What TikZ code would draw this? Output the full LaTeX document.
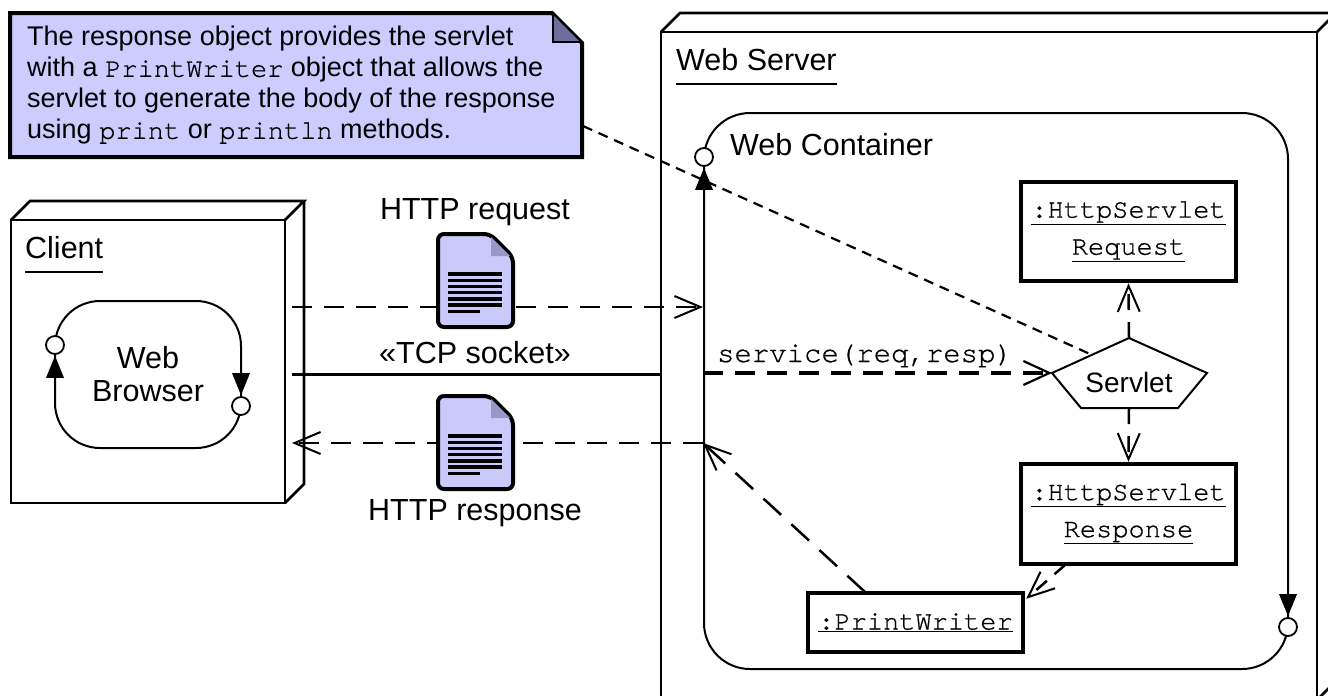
\documentclass[tikz,border=0pt]{standalone}
\usepackage{fontspec}
\setmainfont{Liberation Sans}
\setmonofont{TeX Gyre Cursor}[FakeBold=0.7]
\usetikzlibrary{arrows.meta,calc}
\definecolor{notefill}{HTML}{CCCCFF}
\definecolor{notefold}{HTML}{6E6E9E}
\definecolor{docfill}{HTML}{CACAFA}
\definecolor{docfold}{HTML}{9898C8}
\newcommand\mydoc[1]{%
  \begin{scope}[shift={#1}]
    \draw[line width=4pt, fill=docfill, rounded corners=6pt] (0,0) -- (52,0) -- (75,23) -- (75,93) -- (0,93) -- cycle;
    \fill[docfold] (53,3) -- (53,22) -- (72,22) -- cycle;
    \foreach \k in {0,...,5}{\draw[line width=3.4pt] (10,{40+6.2*\k}) -- (64,{40+6.2*\k});}
    \draw[line width=3.4pt] (10,77.2) -- (42,77.2);
  \end{scope}}
\tikzset{
  lbl/.style={font=\fontsize{30.5}{34}\selectfont, inner sep=0pt},
  monolbl/.style={font=\ttfamily\fontsize{29}{34}\selectfont, inner sep=0pt},
  nodebox/.style={line width=2.6pt},
  objbox/.style={draw, line width=4.5pt, inner sep=0pt, align=center, font=\ttfamily\fontsize{27}{37}\selectfont},
  lolli/.style={circle, draw, fill=white, line width=1.8pt, minimum size=18pt, inner sep=0pt},
  openhead/.style={-{Straight Barb[length=26pt, width=22pt, line width=2pt]}},
  dashln/.style={line width=2.5pt, dash pattern=on 20pt off 12pt},
  notedash/.style={line width=2.2pt, dash pattern=on 10pt off 7pt},
}
\begin{document}
\begin{tikzpicture}[x=1pt, y=-1pt]
\useasboundingbox (0,0) rectangle (1328,696);
\clip (0,0) rectangle (1328,696);

% ---------- Web Server node (3D box)
\draw[nodebox] (661,32) rectangle (1317,700);
\draw[nodebox] (661,32) -- (680,13) -- (1336,13) -- (1317,32);
\draw[nodebox] (1336,13) -- (1336,681) -- (1317,700);
\node[lbl, anchor=base west] (wsl) at (676,70) {Web Server};
\draw[line width=1.8pt] ($(wsl.base west)+(0,14)$) -- ($(wsl.base east)+(0,14)$);

% ---------- Web Container
\node[draw, line width=2pt, rounded corners=46pt, minimum width=584pt, minimum height=556pt, inner sep=0pt] (wc) at (996,391) {};
\node[lbl, anchor=base west] (wcl) at (730,155) {Web Container};
\node[lolli] (wcin) at (704,157) {};
\fill ($(wcin.south)+(0,1)$) -- ++(-9,22) -- ++(18,0) -- cycle;
\node[lolli] (wcout) at (1288,627) {};
\fill ($(wcout.north)+(0,-1)$) -- ++(-9,-22) -- ++(18,0) -- cycle;

% ---------- Client node (3D box)
\draw[nodebox] (11,220) rectangle (285,503);
\draw[nodebox] (11,220) -- (30,201) -- (304,201) -- (285,220);
\draw[nodebox] (304,201) -- (304,484) -- (285,503);
\node[lbl, anchor=base west] (cl) at (25,258) {Client};
\draw[line width=1.8pt] ($(cl.base west)+(0,14)$) -- ($(cl.base east)+(0,14)$);

% ---------- Web Browser
\node[draw, line width=2pt, rounded corners=45pt, minimum width=186pt, minimum height=147pt, align=center, font=\fontsize{30.5}{33}\selectfont, inner sep=0pt] (wb) at (148,374.5) {Web\\Browser};
\node[lolli] (wbin) at (55,345) {};
\fill ($(wbin.south)+(0,1)$) -- ++(-9,22) -- ++(18,0) -- cycle;
\node[lolli] (wbout) at (241,406) {};
\fill ($(wbout.north)+(0,-1)$) -- ++(-9,-22) -- ++(18,0) -- cycle;

% ---------- objects in the container
\node[objbox, minimum width=215pt, minimum height=99pt] (req) at (1128.5,231.5) {\underline{:HttpServlet}\\\underline{Request}};
\node[objbox, minimum width=215pt, minimum height=100pt] (resp) at (1128.5,514) {\underline{:HttpServlet}\\\underline{Response}};
\node[objbox, minimum width=215pt, minimum height=59pt] (pw) at (915.5,622.5) {\underline{:PrintWriter}};

% Servlet (pentagon)
\coordinate (svtop) at (1129,338);
\coordinate (svright) at (1207,373);
\coordinate (svbr) at (1178,408);
\coordinate (svbl) at (1081,408);
\coordinate (svleft) at (1052,373);
\coordinate (svbot) at (1129,408);
\coordinate (svnote) at (1090,354);
\draw[line width=2pt, fill=white] (svtop) -- (svright) -- (svbr) -- (svbl) -- (svleft) -- cycle;
\node[lbl, font=\fontsize{28}{30}\selectfont] (sv) at (1129,382) {Servlet};

% ---------- connectors between client and server
\coordinate (creq) at (292,307);
\coordinate (ctcp) at (292,374);
\coordinate (stcp) at (661,374);
\coordinate (cresp) at (292,443);
\draw[dashln, openhead] (creq) -- (creq -| wc.west);
\draw[line width=3pt] (ctcp) -- (stcp);
\draw[dashln, openhead] (cresp -| wc.west) -- (cresp);
\mydoc{(438,234)}
\mydoc{(438,396)}
\node[lbl] (lreq) at (475,212) {HTTP request};
\node[lbl] (ltcp) at (475,353) {«TCP socket»};
\node[lbl] (lresp) at (475,513) {HTTP response};

% ---------- connectors inside the container
\draw[line width=4pt, dash pattern=on 20pt off 12pt, -{Straight Barb[length=26pt, width=24pt, line width=2.2pt]}] (svleft -| wc.west) -- (svleft);
\node[monolbl, anchor=base] (svc) at (865,362) {service(req,resp)};
\draw[dashln, dash pattern=on 16pt off 12pt, openhead] (svtop) -- (req.south);
\draw[dashln, dash pattern=on 16pt off 12pt, openhead] (svbot) -- (resp.north);
\coordinate (respout) at (1065,565);
\draw[dashln, dash pattern=on 14pt off 10pt, openhead] (respout) -- ($(pw.north east)+(1,8)$);
\coordinate (pwout) at (865,592);
\draw[dashln, dash pattern=on 24pt off 14pt, openhead] (pwout) -- (cresp -| wc.west);

% ---------- note
\draw[line width=4pt, fill=notefill] (10,13) -- (552,13) -- (582,43) -- (582,157) -- (10,157) -- cycle;
\fill[notefold] (553,15) -- (553,42) -- (580,42) -- cycle;
\draw[line width=2pt] (553,15) -- (553,42) -- (580,42);
\node[anchor=north west, align=left, inner sep=0pt, font=\fontsize{27}{31}\selectfont] (note) at (27,26)
  {The response object provides the servlet\\with a \texttt{PrintWriter} object that allows the\\servlet to generate the body of the response\\using \texttt{print} or \texttt{println} methods.};
\coordinate (noteout) at (583,126);
\draw[notedash] (noteout) -- (svnote);
\end{tikzpicture}
\end{document}
